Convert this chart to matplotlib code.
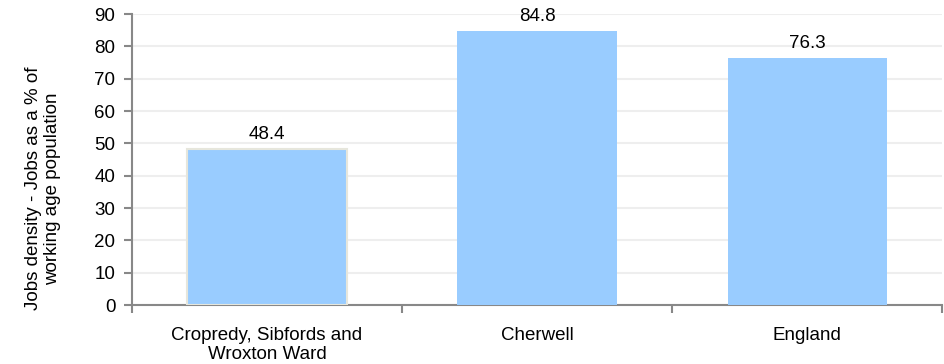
import matplotlib.pyplot as plt

plt.rcParams['font.family'] = ['Liberation Sans', 'DejaVu Sans']

# data
areas = ['Cropredy, Sibfords and\nWroxton Ward', 'Cherwell', 'England']
density = [48.4, 84.8, 76.3]
yticks = [0, 10, 20, 30, 40, 50, 60, 70, 80, 90]

fig = plt.figure(figsize=(9.44, 3.64), dpi=100)
ax = fig.add_axes([0.1398, 0.162, 0.8584, 0.7995])

x = range(len(areas))
bars = ax.bar(x, density, width=0.59, color='#99CCFF', zorder=3)
bars[0].set_edgecolor('#E6E6DC')
bars[0].set_linewidth(1.5)

for xi, v in zip(x, density):
    ax.text(xi, v + 1.8, f'{v:.1f}', ha='center', va='bottom', fontsize=13.5)

ax.set_xlim(-0.5, len(areas) - 0.5)
ax.set_ylim(0, 90)
ax.set_yticks(yticks)
ax.tick_params(axis='y', labelsize=13.5, length=6, color='#888888', width=1.5, pad=6)
ax.set_xticks(x)
ax.set_xticklabels(areas, fontsize=13.5, linespacing=1.12)
ax.tick_params(axis='x', length=0, pad=16)
# category boundary ticks
ax.set_xticks([-0.5, 0.5, 1.5, 2.5], minor=True)
ax.tick_params(axis='x', which='minor', length=6, color='#888888', width=1.5)

ax.grid(axis='y', color='#EEEEEE', linewidth=1.5, zorder=0)
for s in ['top', 'right']:
    ax.spines[s].set_visible(False)
for s in ['left', 'bottom']:
    ax.spines[s].set_color('#888888')
    ax.spines[s].set_linewidth(1.5)

ax.set_ylabel('Jobs density - Jobs as a % of\nworking age population', fontsize=13.5, linespacing=1.12)
ax.yaxis.set_label_coords(-0.088, 0.40)

fig.savefig('out.png', dpi=100)
